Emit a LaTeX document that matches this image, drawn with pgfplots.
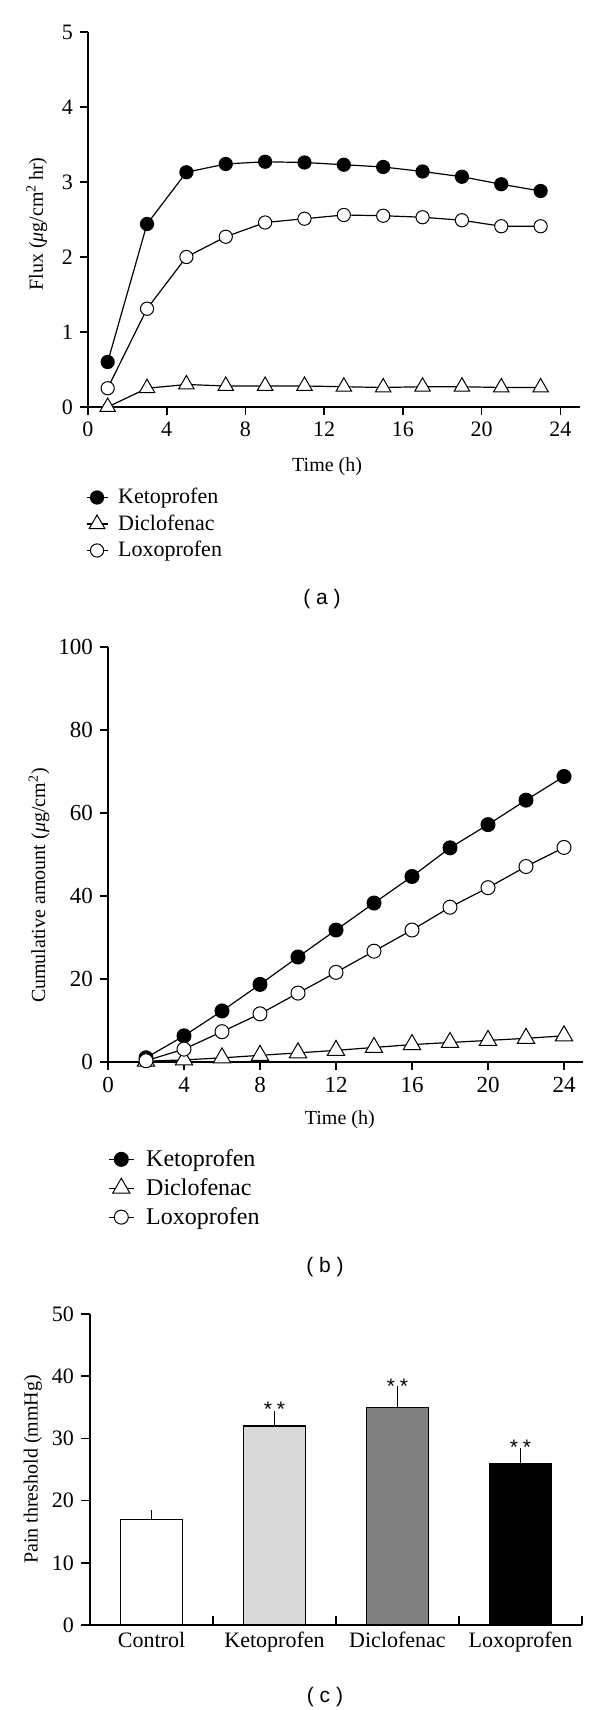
\documentclass[border=0pt]{standalone}
\usepackage{fontspec}
\setmainfont{Liberation Serif}
\newfontfamily\sansf{Liberation Sans}
\usepackage{pgfplots}
\pgfplotsset{compat=1.18}
\pgfplotsset{
  common/.style={
    scale only axis, clip=false,
    axis lines*=left,
    axis line style={line width=0.8pt,-},
    tick style={line width=0.8pt,black},
    major tick length=4pt,
    tick align=outside,
    /pgf/number format/assume math mode=true,
  },
  lstyle/.style={line width=0.6pt, black},
  ebar/.style={error bars/.cd, y dir=plus, y explicit, error bar style={line width=0.7pt}, error mark options={mark size=1.4pt, line width=0.7pt}},
}
\begin{document}
\begin{tikzpicture}
\useasboundingbox (0,0) rectangle (300pt,855pt);

% ---------------- panel (a) ----------------
\begin{axis}[common,
  width=246pt, height=187.5pt,
  at={(44pt,651.5pt)}, anchor=south west,
  xmin=0, xmax=25, ymin=0, ymax=5,
  xtick={0,4,...,24}, ytick={0,1,...,5},
  tick label style={font=\fontsize{11}{13}\selectfont},
  label style={font=\fontsize{11}{13}\selectfont},
  xlabel={Time (h)},
  ylabel={Flux (\textit{μ}g/cm\textsuperscript{2}\,hr)},
  every axis x label/.style={at={(axis description cs:0.486,-0.16)}, anchor=center},
  every axis y label/.style={at={(axis description cs:-0.104,0.488)}, rotate=90, anchor=center},
  legend style={draw=none, fill=none, inner sep=0pt, row sep=0pt,
     at={(axis description cs:-0.005,-0.205)}, anchor=north west,
     font=\fontsize{11}{13}\selectfont},
  legend cell align=left,
  legend image code/.code={\draw[#1, mark repeat=2, mark phase=2] plot coordinates {(0pt,0pt) (5.25pt,0pt) (10.5pt,0pt)};},
]
\addplot[lstyle, mark=*, mark size=3.3pt, mark options={fill=black, line width=0.5pt}]
 coordinates {(1,0.60) (3,2.44) (5,3.13) (7,3.24) (9,3.27) (11,3.26) (13,3.23) (15,3.20) (17,3.14) (19,3.07) (21,2.97) (23,2.88)};
\addlegendentry{\hspace{3pt}Ketoprofen}
\addplot[lstyle, mark=triangle*, mark size=4.5pt, mark options={fill=white, line width=0.5pt}]
 coordinates {(1,0.00) (3,0.25) (5,0.30) (7,0.28) (9,0.28) (11,0.28) (13,0.27) (15,0.26) (17,0.27) (19,0.27) (21,0.26) (23,0.26)};
\addlegendentry{\hspace{3pt}Diclofenac}
\addplot[lstyle, mark=*, mark size=3.3pt, mark options={fill=white, line width=0.5pt}]
 coordinates {(1,0.25) (3,1.31) (5,2.00) (7,2.27) (9,2.46) (11,2.51) (13,2.56) (15,2.55) (17,2.53) (19,2.49) (21,2.41) (23,2.41)};
\addlegendentry{\hspace{3pt}Loxoprofen}
\end{axis}
\node[font={\sansf\fontsize{10.5}{12}\selectfont}] at (161pt,555.5pt) {( a )};

% ---------------- panel (b) ----------------
\begin{axis}[common,
  width=237.5pt, height=207.5pt,
  at={(54pt,324pt)}, anchor=south west,
  xmin=0, xmax=25, ymin=0, ymax=100,
  xtick={0,4,...,24}, ytick={0,20,...,100},
  tick label style={font=\fontsize{11.5}{13.5}\selectfont},
  label style={font=\fontsize{12}{14}\selectfont},
  xlabel={Time (h)},
  ylabel={Cumulative amount (\textit{μ}g/cm\textsuperscript{2})},
  every axis x label/.style={at={(axis description cs:0.488,-0.14)}, anchor=center},
  every axis y label/.style={at={(axis description cs:-0.145,0.425)}, rotate=90, anchor=center},
  legend style={draw=none, fill=none, inner sep=0pt, row sep=0.5pt,
     at={(axis description cs:0.0,-0.2)}, anchor=north west,
     font=\fontsize{12}{14}\selectfont},
  legend cell align=left,
  legend image code/.code={\draw[#1, mark repeat=2, mark phase=2] plot coordinates {(0pt,0pt) (6.15pt,0pt) (12.3pt,0pt)};},
]
\addplot[lstyle, mark=*, mark size=3.5pt, mark options={fill=black, line width=0.5pt}]
 coordinates {(2,1.0) (4,6.3) (6,12.3) (8,18.7) (10,25.3) (12,31.8) (14,38.3) (16,44.7) (18,51.6) (20,57.2) (22,63.1) (24,68.8)};
\addlegendentry{\hspace{4pt}Ketoprofen}
\addplot[lstyle, mark=triangle*, mark size=5pt, mark options={fill=white, line width=0.5pt}]
 coordinates {(2,0.2) (4,0.5) (6,1.0) (8,1.6) (10,2.2) (12,2.8) (14,3.5) (16,4.2) (18,4.7) (20,5.2) (22,5.7) (24,6.3)};
\addlegendentry{\hspace{4pt}Diclofenac}
\addplot[lstyle, mark=*, mark size=3.5pt, mark options={fill=white, line width=0.5pt}]
 coordinates {(2,0.3) (4,3.1) (6,7.3) (8,11.6) (10,16.6) (12,21.6) (14,26.7) (16,31.8) (18,37.3) (20,42.0) (22,47.1) (24,51.7)};
\addlegendentry{\hspace{4pt}Loxoprofen}
\end{axis}
\node[font={\sansf\fontsize{10.5}{12}\selectfont}] at (162.5pt,221.5pt) {( b )};

% ---------------- panel (c) ----------------
\begin{axis}[common,
  width=246pt, height=155.5pt,
  at={(45pt,42.5pt)}, anchor=south west,
  xmin=0, xmax=4, ymin=0, ymax=50,
  ytick={0,10,...,50},
  xtick={1,2,3,4}, xticklabels={},
  xtick align=inside,
  major tick length=4.5pt,
  extra x ticks={0.5,1.5,2.5,3.5},
  extra x tick labels={Control,Ketoprofen,Diclofenac,Loxoprofen},
  extra x tick style={major tick length=0pt},
  tick label style={font=\fontsize{11}{13}\selectfont},
  label style={font=\fontsize{11}{13}\selectfont},
  ylabel={Pain threshold (mmHg)},
  every axis y label/.style={at={(axis description cs:-0.116,0.5)}, rotate=90, anchor=center},
]
\addplot[ybar, bar width=31pt, bar shift=0pt, fill=white, draw=black, line width=0.6pt, ebar]
  coordinates {(0.5,17) +- (0,1)};
\addplot[ybar, bar width=31pt, bar shift=0pt, fill={rgb,255:red,217;green,217;blue,217}, draw=black, line width=0.6pt, ebar]
  coordinates {(1.5,32) +- (0,2)};
\addplot[ybar, bar width=31pt, bar shift=0pt, fill={rgb,255:red,128;green,128;blue,128}, draw=black, line width=0.6pt, ebar]
  coordinates {(2.5,35) +- (0,3)};
\addplot[ybar, bar width=31pt, bar shift=0pt, fill=black, draw=black, line width=0.6pt, ebar]
  coordinates {(3.5,26) +- (0,2)};
\node[font={\sansf\fontsize{10.5}{12}\selectfont}] at (axis cs:1.5,34.7) {*\hspace{2.5pt}*};
\node[font={\sansf\fontsize{10.5}{12}\selectfont}] at (axis cs:2.5,38.4) {*\hspace{2.5pt}*};
\node[font={\sansf\fontsize{10.5}{12}\selectfont}] at (axis cs:3.5,28.6) {*\hspace{2.5pt}*};
\end{axis}
\node[font={\sansf\fontsize{10.5}{12}\selectfont}] at (162.5pt,6.5pt) {( c )};
\end{tikzpicture}
\end{document}
